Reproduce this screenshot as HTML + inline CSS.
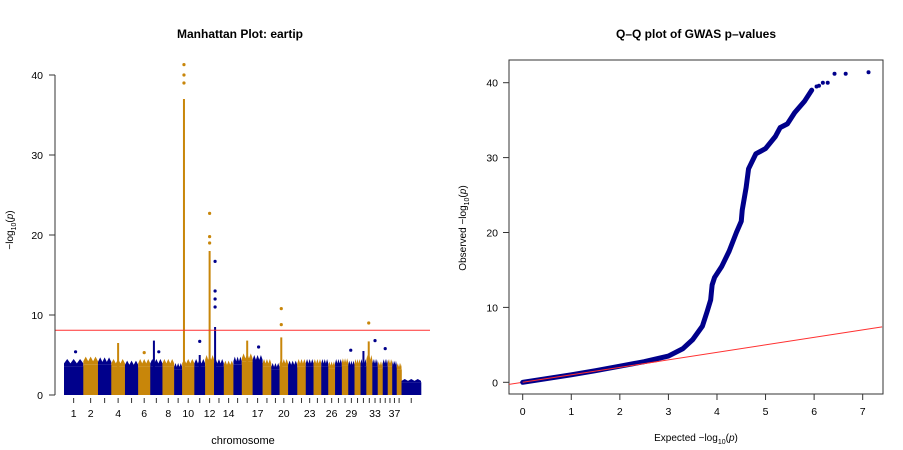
<!DOCTYPE html>
<html><head><meta charset="utf-8">
<style>
body{margin:0;background:#fff;}
svg{display:block;font-family:"Liberation Sans",Arial,sans-serif;}
</style></head>
<body>
<svg id="chart" width="903" height="450" viewBox="0 0 903 450">
<rect width="903" height="450" fill="#fff"/>
<text x="240" y="38" text-anchor="middle" font-size="12" font-weight="bold">Manhattan Plot: eartip</text>
<text x="696" y="38" text-anchor="middle" font-size="12" font-weight="bold">Q–Q plot of GWAS p–values</text>
<g id="man"></g>
<g id="qq"></g>
</svg>
<script>
// ---------- Manhattan data ----------
const chromLen=[19.3,14.7,13.3,13.7,13.2,12.1,12.2,11.7,8,12.2,10.8,9,9.7,9.6,8.4,10.8,10,8.7,8.3,8.5,9.2,8.5,7.8,7.7,7,6.8,6.8,6.4,6.3,6,5.8,6,5.4,5,5,4.5,4.5,4.8,19.5];
const chromLabels=["1","2","","4","","6","","8","","10","","12","","14","","","17","","","20","","","23","","","26","","","29","","","","33","","","","37","",""];
const bandTop=[4.5,4.8,4.7,4.5,4.3,4.5,4.5,4.5,4,4.5,4.5,5,4.5,4.3,4.8,5.2,5,4.5,4,4.5,4.3,4.5,4.5,4.5,4.5,4.2,4.5,4.6,4.3,4.5,4.5,5,4.5,4.2,4.5,4.5,4.3,4,2];
const colChrom=[4,7,10,12,13,16,20,31,32,11];
const colFrac=[0.5,0.3,0.15,0.5,0.1,0.5,0.2,0.5,0.4,0.5];
const colTop=[6.5,6.8,37,18,8.5,6.8,7.2,5.5,6.7,5];
const ptChrom=[10,10,10,12,12,12,13,13,13,13,20,20,32,11,17,33,35,29,1,6,7];
const ptFrac=[0.15,0.15,0.15,0.5,0.5,0.5,0.1,0.1,0.1,0.1,0.2,0.2,0.4,0.5,0.6,0.5,0.5,0.4,0.6,0.5,0.7];
const ptVal=[41.3,40,39,22.7,19.8,19,16.7,13,12,11,10.8,8.8,9,6.7,6,6.8,5.8,5.6,5.4,5.3,5.4];
const yTicks=[0,10,20,30,40];
const threshold=8.1;

const NS="http://www.w3.org/2000/svg";
function mk(tag,attrs,parent){const e=document.createElementNS(NS,tag);for(const k in attrs)e.setAttribute(k,attrs[k]);parent.appendChild(e);return e;}
const BLUE="#00008b",ORANGE="#c8860a";
const man=document.getElementById('man');
const total=chromLen.reduce((a,b)=>a+b,0);
const mx0=64,mx1=421;
const mX=v=>mx0+(v/total)*(mx1-mx0);
const mY=v=>395-v*8;
const starts=[];let acc=0;chromLen.forEach(l=>{starts.push(acc);acc+=l;});
const posX=(c,f)=>mX(starts[c-1]+f*chromLen[c-1]);

chromLen.forEach((l,i)=>{
  const col=i%2?ORANGE:BLUE;
  const r=mk('rect',{x:mX(starts[i]),y:mY(bandTop[i]*0.8),width:mX(l)-mX(0)+0.3,height:mY(0)-mY(bandTop[i]*0.8),fill:col},man);
  
  
  const n=6;let pts=[];
  for(let k=0;k<=n;k++){const x=mX(starts[i]+l*k/n);const v=bandTop[i]*(k%2?1:0.88);pts.push(x+','+mY(v));}
  pts.push(mX(starts[i]+l)+','+mY(bandTop[i]*0.8));pts.push(mX(starts[i])+','+mY(bandTop[i]*0.8));
  const p=mk('polygon',{points:pts.join(' '),fill:col},man);
  
  
  const cx=mX(starts[i]+l/2);
  const t=mk('line',{x1:cx,y1:398,x2:cx,y2:403,stroke:'#333','stroke-width':1},man);
  
  
  if(chromLabels[i]){
    const tx=mk('text',{x:cx,y:417,'text-anchor':'middle','font-size':10.5},man);
    tx.textContent=chromLabels[i];
    
    
  }
});
colChrom.forEach((c,i)=>{
  const col=(c-1)%2?ORANGE:BLUE;
  const x=posX(c,colFrac[i]);
  const r=mk('rect',{x:x-1,y:mY(colTop[i]),width:2,height:mY(0)-mY(colTop[i]),fill:col},man);
  
  
});
ptChrom.forEach((c,i)=>{
  const col=(c-1)%2?ORANGE:BLUE;
  const d=mk('circle',{cx:posX(c,ptFrac[i]),cy:mY(ptVal[i]),r:1.6,fill:col},man);
  
  
});
const tl=mk('line',{x1:55,x2:430,y1:mY(threshold),y2:mY(threshold),stroke:'#ff3030','stroke-width':1},man);


const ya=mk('line',{x1:55,x2:55,y1:mY(0),y2:mY(40),stroke:'#333'},man);


yTicks.forEach(v=>{
  const t=mk('line',{x1:49,x2:55,y1:mY(v),y2:mY(v),stroke:'#333'},man);
  
  
  const tx=mk('text',{x:43,y:mY(v)+4,'text-anchor':'end','font-size':10.5},man);
  tx.textContent=v;
  
  
});
{
  const tx=mk('text',{x:0,y:0,'text-anchor':'middle','font-size':10,transform:'translate(13,230) rotate(-90)'},man);
  tx.innerHTML='−log<tspan font-size="7" dy="3">10</tspan><tspan dy="-3">(</tspan><tspan font-style="italic">p</tspan>)';
  
  
  const xt=mk('text',{x:243,y:444,'text-anchor':'middle','font-size':11},man);
  xt.textContent='chromosome';
  
  
}

// ---------- QQ data ----------
const qqExp=[0,0.5,1,1.5,2,2.5,3,3.3,3.5,3.7,3.8,3.87,3.9,3.95,4.1,4.25,4.4,4.5,4.52,4.6,4.65,4.8,5,5.2,5.3,5.45,5.6,5.8,5.95];
const qqObs=[0,0.5,1,1.55,2.15,2.75,3.5,4.5,5.7,7.5,9.5,11,13,14,15.5,17.5,20,21.5,23,26,28.5,30.5,31.2,32.8,34,34.5,36,37.5,39];
const qqTailExp=[6.05,6.1,6.18,6.28,6.42,6.65,7.12];
const qqTailObs=[39.5,39.6,40,40,41.2,41.2,41.4];
const qqXTicks=[0,1,2,3,4,5,6,7];
const qqYTicks=[0,10,20,30,40];
const qq=document.getElementById('qq');
const qX=v=>522.7+v*48.57;
const qY=v=>382.3-v*7.49;
const box=mk('rect',{x:509,y:60,width:374,height:334,fill:'none',stroke:'#333'},qq);


const cp=mk('clipPath',{id:'qclip'},qq);mk('rect',{x:509,y:60,width:374,height:334},cp);
const rl=mk('line',{x1:qX(-0.3),y1:qY(-0.3),x2:qX(7.4),y2:qY(7.4),stroke:'#ff3030','clip-path':'url(#qclip)'},qq);


const pl=mk('polyline',{points:qqExp.map((e,i)=>qX(e)+','+qY(qqObs[i])).join(' '),fill:'none',stroke:BLUE,'stroke-width':5,'stroke-linejoin':'round','stroke-linecap':'round'},qq);


const rl2=mk('line',{x1:qX(0),y1:qY(0),x2:qX(2.8),y2:qY(2.8),stroke:'#ff3030','stroke-width':1},qq);


qqTailExp.forEach((e,i)=>{
  const d=mk('circle',{cx:qX(e),cy:qY(qqTailObs[i]),r:2,fill:BLUE},qq);
  
  
});
qqXTicks.forEach(v=>{
  const t=mk('line',{x1:qX(v),x2:qX(v),y1:394,y2:400,stroke:'#333'},qq);
  
  
  const tx=mk('text',{x:qX(v),y:415,'text-anchor':'middle','font-size':10.5},qq);
  tx.textContent=v;
  
  
});
qqYTicks.forEach(v=>{
  const t=mk('line',{x1:503,x2:509,y1:qY(v),y2:qY(v),stroke:'#333'},qq);
  
  
  const tx=mk('text',{x:498,y:qY(v)+4,'text-anchor':'end','font-size':10.5},qq);
  tx.textContent=v;
  
  
});
{
  const tx=mk('text',{x:0,y:0,'text-anchor':'middle','font-size':10,transform:'translate(466,228) rotate(-90)'},qq);
  tx.innerHTML='Observed  −log<tspan font-size="7" dy="3">10</tspan><tspan dy="-3">(</tspan><tspan font-style="italic">p</tspan>)';
  
  
  const xt=mk('text',{x:696,y:441,'text-anchor':'middle','font-size':10},qq);
  xt.innerHTML='Expected  −log<tspan font-size="7" dy="3">10</tspan><tspan dy="-3">(</tspan><tspan font-style="italic">p</tspan>)';
  
  
}
</script>
</body></html>
